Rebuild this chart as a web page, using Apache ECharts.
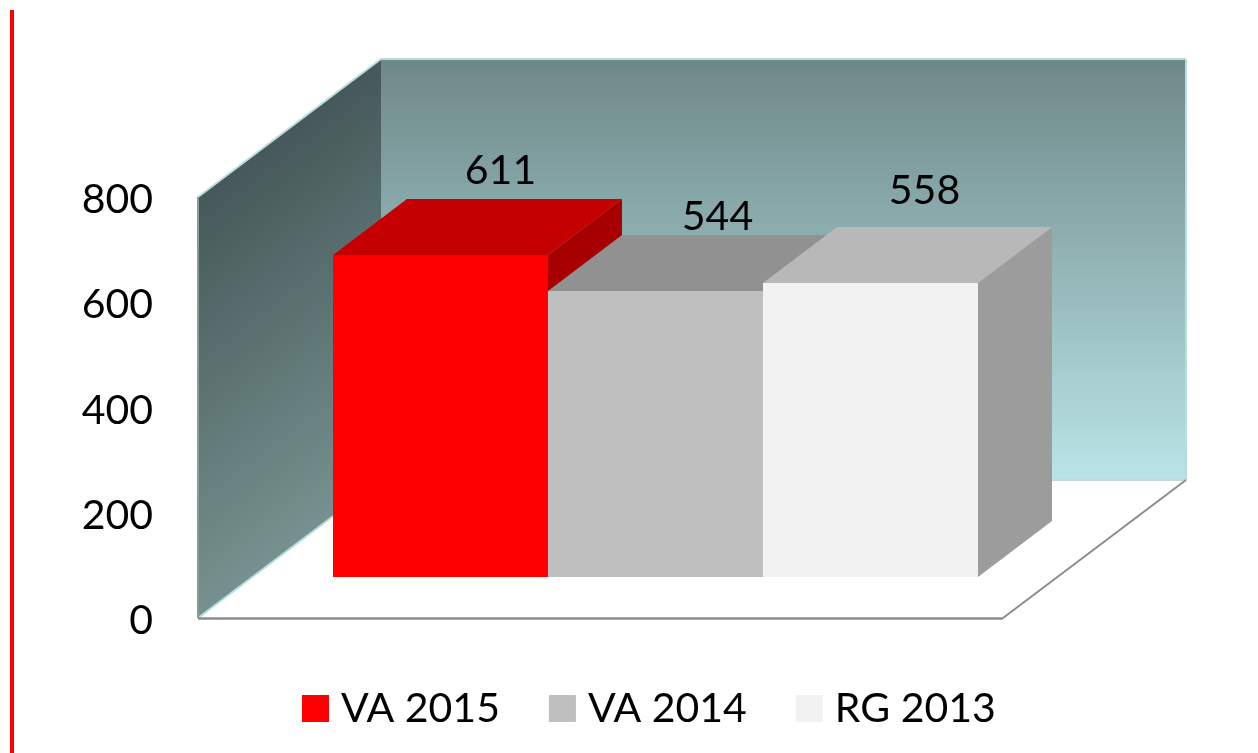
<!DOCTYPE html>
<html>
<head>
<meta charset="utf-8">
<style>
  html, body { margin: 0; padding: 0; background: #fff; }
  #chart { width: 1258px; height: 753px; }
</style>
<script src="https://cdn.jsdelivr.net/npm/echarts@6/dist/echarts.min.js"></script>
</head>
<body>
<div id="chart"></div>
<script>
var categories = [''];
var seriesNames = ['VA 2015', 'VA 2014', 'RG 2013'];
var seriesValues = [[611], [544], [558]];
var tickLabels = [0, 200, 400, 600, 800];

// front, top and side colours of each bar
var barColors = [
  ['#ff0000', '#c40000', '#a60000'],
  ['#bfbfbf', '#919191', '#8a8a8a'],
  ['#f2f2f2', '#b8b8b8', '#9c9c9c']
];
// hand placed labels, relative to the back edge of the bar top
var labelShift = [[-14, -28], [-12, -18], [-20, -36]];

var FONT = 'Lato';
var WALL_DX = 183, WALL_DY = -138;
var BAR_DX = 74, BAR_DY = -56;
var BAR_SHIFT_X = 55, BAR_SHIFT_Y = -41;
var BAR_WIDTH = 215;

function poly(points, style, z2) {
  return { type: 'polygon', shape: { points: points }, style: style, z2: z2 || 0 };
}

function line(a, b, color, width) {
  return {
    type: 'line',
    shape: { x1: a[0], y1: a[1], x2: b[0], y2: b[1] },
    style: { stroke: color, lineWidth: width, fill: null }
  };
}

// walls and floor of the fake 3d box
function renderWalls(params, api) {
  var base = api.coord([0, tickLabels[0]]);
  var top = api.coord([0, tickLabels[tickLabels.length - 1]]);
  var half = api.size([1, 0])[0] / 2;
  var xl = base[0] - half, xr = base[0] + half;
  var yb = base[1], yt = top[1];
  var bl = xl + WALL_DX, br = xr + WALL_DX;
  var byb = yb + WALL_DY, byt = yt + WALL_DY;

  var len = (yb - yt) * 0.798;
  var mx = xl + WALL_DX / 2, my = yt + WALL_DY / 2;
  var sideFill = {
    type: 'linear', global: true,
    x: mx, y: my, x2: mx + len * 0.602, y2: my + len * 0.798,
    colorStops: [{ offset: 0, color: '#465859' }, { offset: 1, color: '#76918f' }]
  };
  var backFill = {
    type: 'linear', global: true,
    x: bl, y: byt, x2: bl, y2: byb,
    colorStops: [{ offset: 0, color: '#6e8888' }, { offset: 1, color: '#b9e4e7' }]
  };

  return {
    type: 'group',
    children: [
      poly([[xl, yb], [xr, yb], [br, byb], [bl, byb]], { fill: '#fff' }),
      poly([[bl, byt], [br, byt], [br, byb], [bl, byb]], { fill: backFill }),
      poly([[xl, yt], [bl, byt], [bl, byb], [xl, yb]], { fill: sideFill }),
      line([xl, yt], [bl, byt], '#b7dde0', 2),
      line([bl, byt], [br, byt], '#b7dde0', 2),
      line([br, byt], [br, byb], '#b7dde0', 2),
      line([xl, yb], [bl, byb], '#b7dde0', 2),
      line([bl, byb], [br, byb], '#c8d8d8', 2),
      line([xl, yt], [xl, yb], '#8b9a9a', 2),
      line([xl, yb + 0.5], [xr, yb + 0.5], '#8c8c8c', 2.5),
      line([xr, yb], [br, byb], '#8c8c8c', 2)
    ]
  };
}

function makeBarRender(i) {
  return function (params, api) {
    var value = api.value(1);
    var base = api.coord([api.value(0), 0]);
    var top = api.coord([api.value(0), value]);
    var x0 = base[0] + BAR_SHIFT_X + (i - seriesNames.length / 2) * BAR_WIDTH;
    var x1 = x0 + BAR_WIDTH;
    var yb = base[1] + BAR_SHIFT_Y;
    // whole pixels, otherwise the bar behind shows through the shared edge
    var yt = Math.round(top[1] + BAR_SHIFT_Y);
    x0 = Math.round(x0);
    x1 = Math.round(x1);
    var c = barColors[i];
    return {
      type: 'group',
      children: [
        poly([[x1, yb], [x1 + BAR_DX, yb + BAR_DY], [x1 + BAR_DX, yt + BAR_DY], [x1, yt]], { fill: c[2] }),
        poly([[x0, yt], [x1, yt], [x1 + BAR_DX, yt + BAR_DY], [x0 + BAR_DX, yt + BAR_DY]], { fill: c[1] }),
        { type: 'rect', shape: { x: x0, y: yt, width: x1 - x0, height: yb - yt }, style: { fill: c[0] } },
        {
          type: 'text',
          x: (x0 + x1) / 2 + BAR_DX + labelShift[i][0],
          y: yt + BAR_DY + labelShift[i][1],
          style: {
            text: String(value),
            fill: '#000',
            font: '41px ' + FONT,
            align: 'center',
            verticalAlign: 'middle'
          }
        }
      ]
    };
  };
}

var series = [{
  name: 'walls',
  type: 'custom',
  silent: true,
  renderItem: renderWalls,
  clip: false,
  z: 1,
  encode: { x: 0, y: 1 },
  data: [[0, 0]]
}];

seriesNames.forEach(function (name, i) {
  series.push({
    name: name,
    type: 'custom',
    renderItem: makeBarRender(i),
    clip: false,
    z: 2 + i,
    itemStyle: { color: barColors[i][0] },
    encode: { x: 0, y: 1 },
    data: seriesValues[i].map(function (v, k) { return [k, v]; })
  });
});

var chart = echarts.init(document.getElementById('chart'), null, { renderer: 'canvas' });
chart.setOption({
  animation: false,
  backgroundColor: '#fff',
  grid: { left: 198, top: 197, width: 805, height: 421, containLabel: false },
  xAxis: {
    type: 'category',
    data: categories,
    axisLine: { show: false },
    axisTick: { show: false },
    axisLabel: { show: false },
    splitLine: { show: false }
  },
  yAxis: {
    type: 'value',
    min: tickLabels[0],
    max: tickLabels[tickLabels.length - 1],
    interval: tickLabels[1] - tickLabels[0],
    axisLine: { show: false },
    axisTick: { show: false },
    splitLine: { show: false },
    // short line height with top align pushes the digits a few px under the tick
    axisLabel: {
      color: '#000', fontFamily: FONT, fontSize: 41, margin: 45,
      verticalAlign: 'top', lineHeight: 6
    }
  },
  legend: {
    data: seriesNames,
    left: 302,
    top: 688,
    padding: 0,
    icon: 'rect',
    itemWidth: 27,
    itemHeight: 27,
    itemGap: 49,
    selectedMode: false,
    textStyle: { color: '#000', fontFamily: FONT, fontSize: 41, padding: [0, 0, 0, 7] }
  },
  graphic: [{
    type: 'rect',
    silent: true,
    shape: { x: 10, y: 10, width: 4, height: 743 },
    style: { fill: '#ff0000' }
  }],
  series: series
});
</script>
</body>
</html>
